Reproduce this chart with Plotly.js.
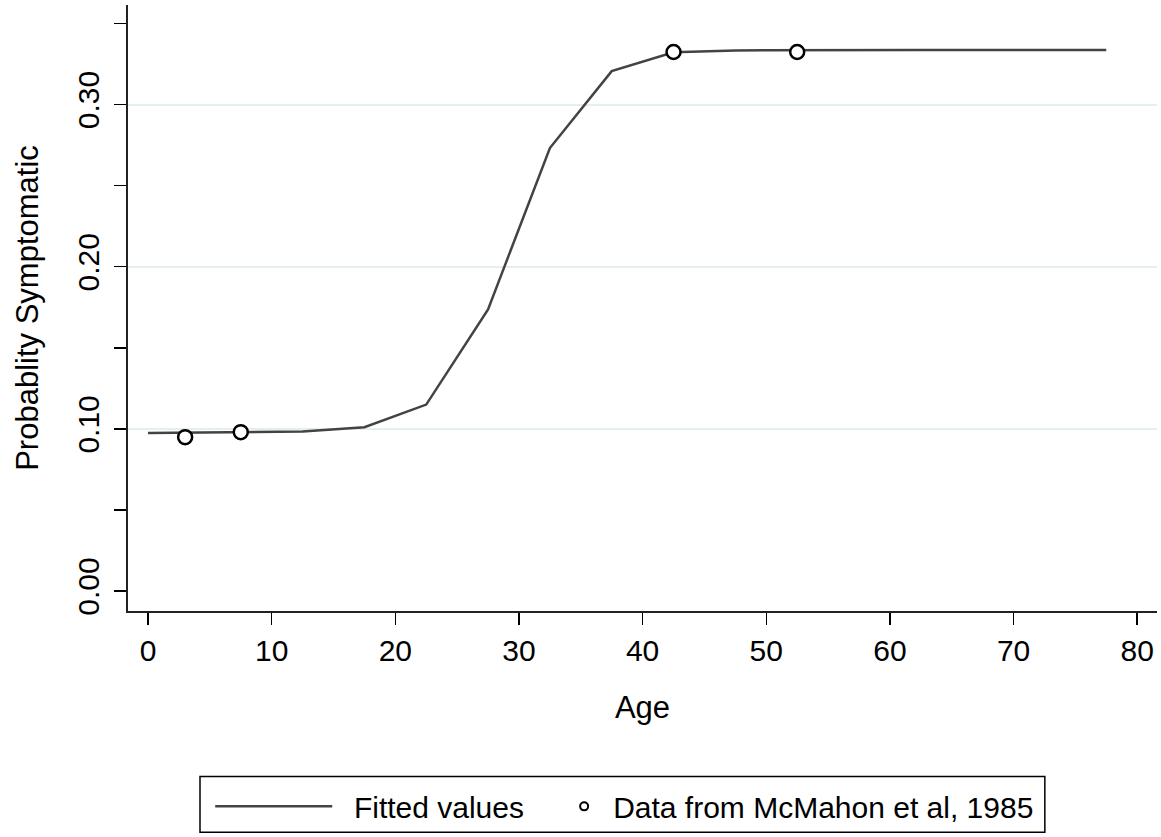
<!DOCTYPE html>
<html>
<head>
<meta charset="utf-8">
<script src="https://cdn.plot.ly/plotly-3.0.1.min.js"></script>
<style>html,body{margin:0;padding:0;background:#fff;}#chart{width:1161px;height:837px;}</style>
</head>
<body>
<div id="chart"></div>
<script>
// Fitted values (line)
var fitAge = [0, 7.5, 12.5, 17.5, 22.5, 27.5, 32.5, 37.5, 42.5, 47.5, 52.5, 57.5, 62.5, 67.5, 72.5, 77.5];
var fitProb = [0.0975, 0.0978, 0.0984, 0.1010, 0.1150, 0.1737, 0.2732, 0.3206, 0.3322, 0.3334, 0.3336, 0.3337, 0.3337, 0.3337, 0.3337, 0.3337];
// Observed data points
var obsAge = [3, 7.5, 42.5, 52.5];
var obsProb = [0.0949, 0.0980, 0.3324, 0.3324];
// Tick labels
var xTicks = [0, 10, 20, 30, 40, 50, 60, 70, 80];
var yTickVals = [0, 0.05, 0.10, 0.15, 0.20, 0.25, 0.30, 0.35];
var yTickText = ['0.00', '', '0.10', '', '0.20', '', '0.30', ''];
var yGridVals = [0.10, 0.20, 0.30];
// Legend labels
var fitName = 'Fitted values';
var obsName = 'Data from McMahon et al, 1985';

var FONT = 'Liberation Sans, Arial, sans-serif';

var traces = [
  {
    x: fitAge, y: fitProb, type: 'scatter', mode: 'lines',
    name: '\u00a0\u00a0' + fitName,
    line: {color: '#434343', width: 2.5},
    legend: 'legend'
  },
  {
    x: obsAge, y: obsProb, type: 'scatter', mode: 'markers',
    name: obsName,
    marker: {size: 14, color: '#ffffff', line: {color: '#000000', width: 2.5}},
    showlegend: false
  },
  {
    x: [null], y: [null], type: 'scatter', mode: 'markers',
    name: obsName,
    marker: {size: 8, color: '#ffffff', line: {color: '#000000', width: 2}},
    legend: 'legend2'
  }
];

var layout = {
  width: 1161, height: 837, autosize: false,
  margin: {l: 128, r: 4, t: 5, b: 224},
  paper_bgcolor: '#ffffff', plot_bgcolor: '#ffffff',
  font: {family: FONT, color: '#000000'},
  showlegend: true,
  xaxis: {
    range: [-1.62, 81.6],
    tickmode: 'array', tickvals: xTicks, ticktext: xTicks.map(String),
    ticks: 'outside', ticklen: 12, tickwidth: 1.5, tickcolor: '#000',
    showline: true, linecolor: '#222', linewidth: 2,
    showgrid: false, zeroline: false,
    tickfont: {size: 30, family: FONT},
    ticklabelstandoff: 0,
    title: {text: 'Age', font: {size: 31, family: FONT}, standoff: 30}
  },
  yaxis: {
    range: [-0.0123, 0.3614],
    tickmode: 'array', tickvals: yTickVals, ticktext: yTickText,
    tickangle: -90,
    ticks: 'outside', ticklen: 12, tickwidth: 1.5, tickcolor: '#000',
    showline: true, linecolor: '#222', linewidth: 2,
    showgrid: false, zeroline: false,
    tickfont: {size: 30, family: FONT},
    ticklabelstandoff: 3,
    minor: {tickmode: 'array', tickvals: yGridVals, ticks: '', showgrid: true, gridcolor: '#e6efef', gridwidth: 2},
    title: {text: 'Probablity Symptomatic', font: {size: 31, family: FONT}, standoff: 24}
  },
  legend: {
    orientation: 'h', x: 0.0799, xanchor: 'left', y: -0.3224, yanchor: 'middle',
    bgcolor: 'rgba(0,0,0,0)', borderwidth: 0, itemwidth: 117,
    font: {size: 30, family: FONT}
  },
  legend2: {
    orientation: 'h', x: 0.4151, xanchor: 'left', y: -0.3224, yanchor: 'middle',
    bgcolor: 'rgba(0,0,0,0)', borderwidth: 0, itemwidth: 48,
    font: {size: 30, family: FONT}
  },
  shapes: [
    {type: 'rect', xref: 'paper', yref: 'paper',
     x0: 0.06997, x1: 0.891, y0: -0.3651, y1: -0.2730,
     line: {color: '#000000', width: 1.5}, fillcolor: 'rgba(0,0,0,0)', layer: 'below'}
  ]
};

Plotly.newPlot('chart', traces, layout, {displayModeBar: false, staticPlot: true});
</script>
</body>
</html>
